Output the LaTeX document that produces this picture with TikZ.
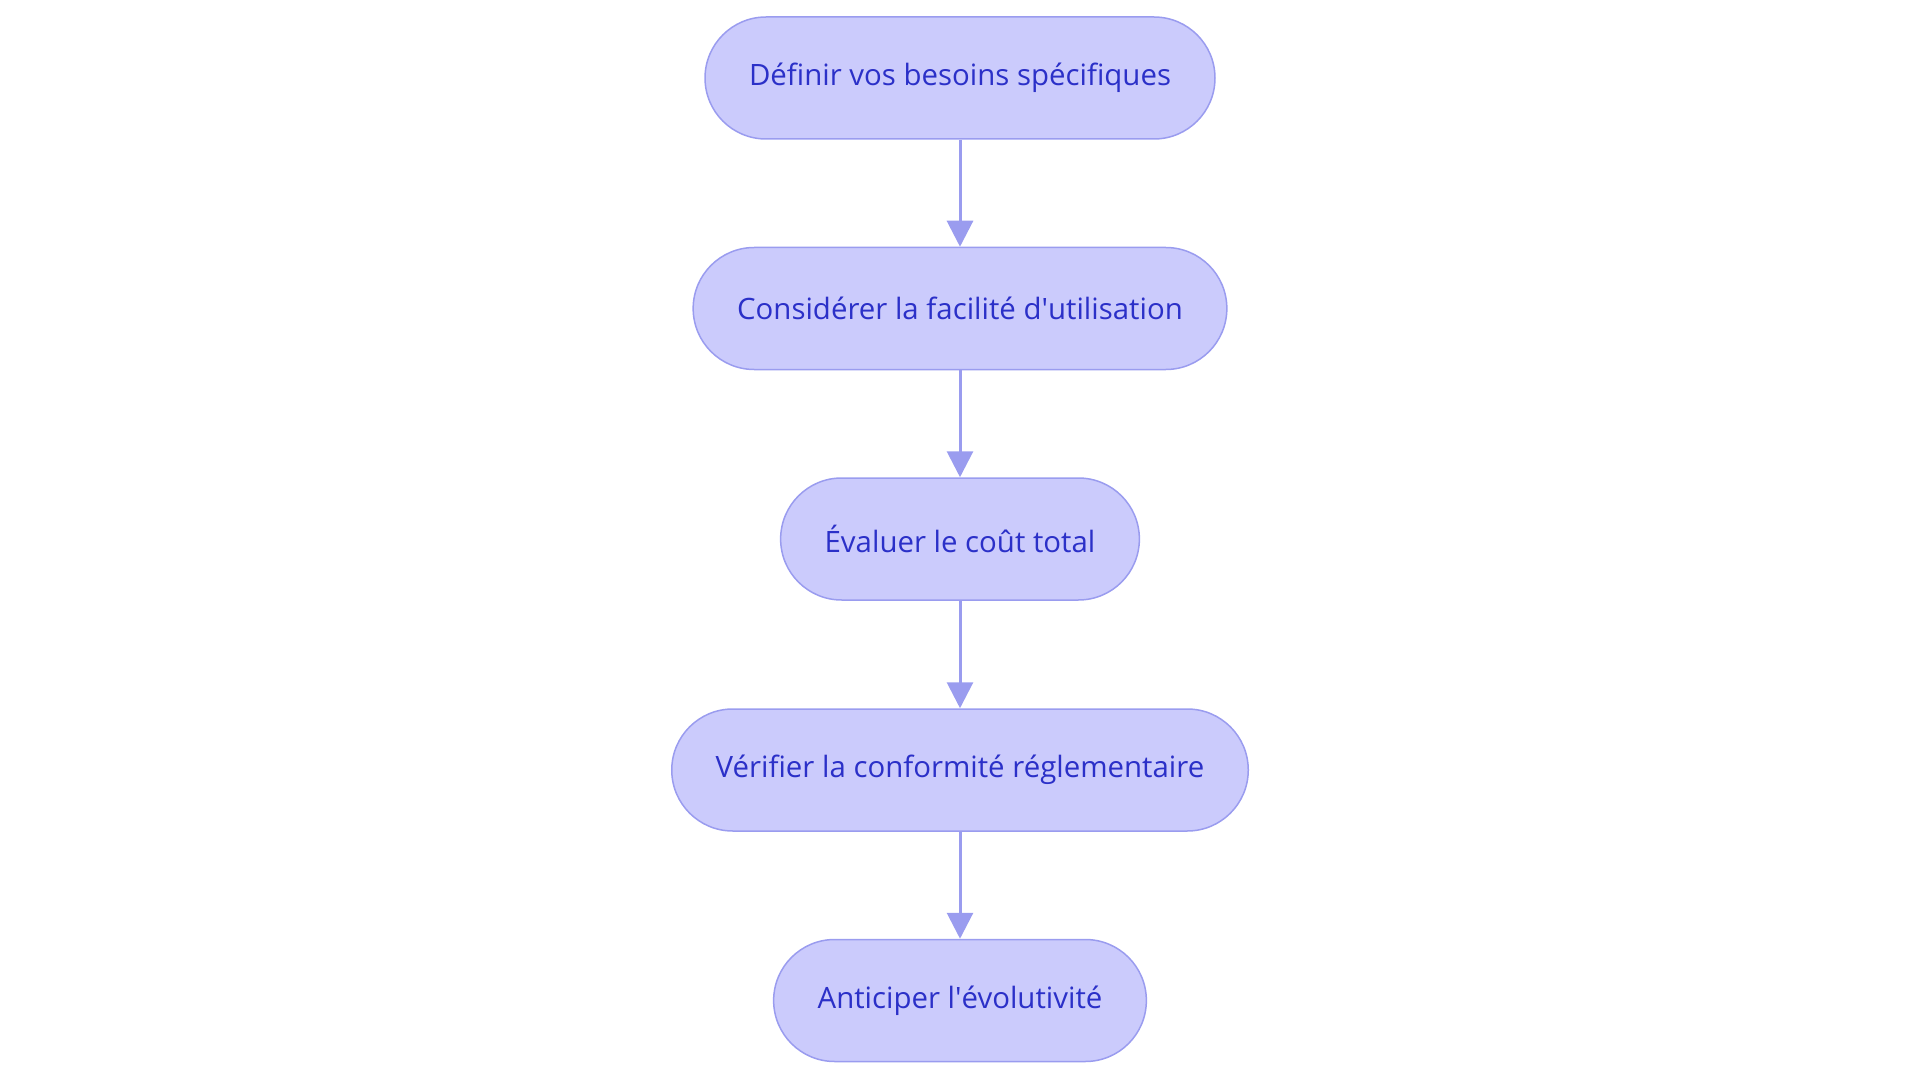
\documentclass[tikz,border=0pt]{standalone}
\usepackage{fontspec}
\setmainfont{Open Sans}
\usetikzlibrary{arrows.meta}
\definecolor{stepfill}{HTML}{CBCBFC}
\definecolor{stepline}{HTML}{9A9CEF}
\definecolor{steptext}{HTML}{2B30C8}
\begin{document}
\begin{tikzpicture}[x=1pt,y=1pt,
  main node/.style={rectangle,rounded corners=61pt,fill=stepfill,draw=stepline,line width=1.5pt,
    minimum height=122pt,inner xsep=44pt,text=steptext,font=\fontsize{29.4}{34}\selectfont},
  flow/.style={draw=stepline,fill=stepline,line width=3pt,-{Triangle[length=26pt,width=26pt]}}]

  \useasboundingbox (0,0) rectangle (1920,-1083);

  \node[main node] (s1) at (960,-78) {Définir vos besoins spécifiques};
  \node[main node] (s2) at (960,-308.5) {Considérer la facilité d\textquotesingle utilisation};
  \node[main node] (s3) at (960,-539) {Évaluer le coût total};
  \node[main node] (s4) at (960,-770) {Vérifier la conformité réglementaire};
  \node[main node] (s5) at (960,-1000.5) {Anticiper l\textquotesingle évolutivité};

  \path[flow]
    (s1) edge (s2)
    (s2) edge (s3)
    (s3) edge (s4)
    (s4) edge (s5) ;

\end{tikzpicture}
\end{document}
